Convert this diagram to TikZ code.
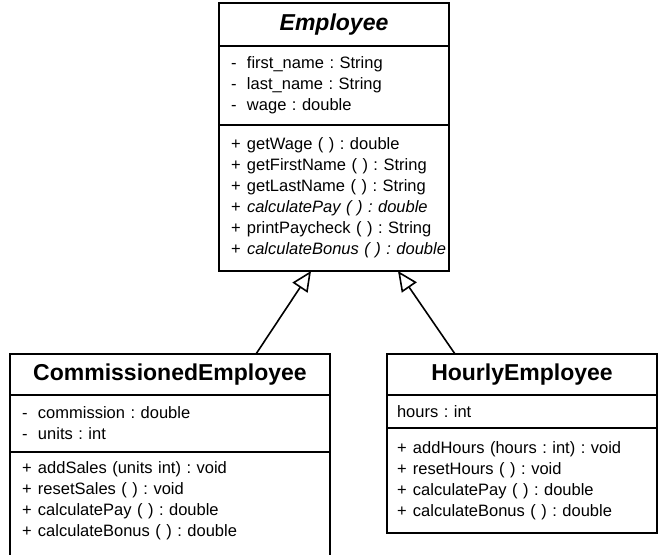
\documentclass[tikz,border=0pt]{standalone}
\usepackage{fontspec}
\setmainfont{Liberation Sans}
\usepackage{tikz}
\usetikzlibrary{arrows.meta,positioning}
\frenchspacing
\newcommand{\vis}[2]{\mbox{\makebox[16pt][l]{#1}{#2}}}
\tikzset{
  chead/.style={outer sep=0pt,inner sep=0pt,font=\fontsize{23}{26}\selectfont\bfseries},
  cpart/.style={outer sep=0pt,inner xsep=12pt,inner ysep=0pt,align=left,font=\fontsize{16.5}{21}\selectfont},
  cframe/.style={line width=2.4pt},
  csep/.style={line width=1.2pt},
  gen/.style={-{Triangle[open,length=20pt,width=18pt]},line width=1.6pt}
}

\begin{document}
\begin{tikzpicture}[x=1pt,y=1pt]
\useasboundingbox (0,0) rectangle (660,-554);
% Employee
\node[chead, anchor=north west, minimum width=230pt, minimum height=43pt] (emph) at (219,-3) {\itshape Employee};
\node[cpart, text width=206pt, minimum height=79pt, below=0pt of emph] (empa)
  {\vis{-}{first\_name : String}\\ \vis{-}{last\_name : String}\\ \vis{-}{wage : double}};
\node[cpart, text width=206pt, minimum height=146pt, below=0pt of empa] (empm)
  {\vis{+}{getWage ( ) : double}\\ \vis{+}{getFirstName ( ) : String}\\
   \vis{+}{getLastName ( ) : String}\\ \vis{+}{\itshape calculatePay ( ) : double}\\
   \vis{+}{printPaycheck ( ) : String}\\ \vis{+}{\itshape calculateBonus ( ) : double}};
\draw[cframe] (emph.north west) rectangle (empm.south east);
\draw[csep] (emph.south west) -- (emph.south east);
\draw[csep] (empa.south west) -- (empa.south east);

% CommissionedEmployee
\node[chead, anchor=north west, minimum width=320pt, minimum height=41pt] (comh) at (10,-354) {CommissionedEmployee};
\node[cpart, text width=296pt, minimum height=57pt, below=0pt of comh] (coma)
  {\vis{-}{commission : double}\\ \vis{-}{units : int}};
\node[cpart, text width=296pt, minimum height=97pt, below=0pt of coma] (comm)
  {\vis{+}{addSales (units int) : void}\\ \vis{+}{resetSales ( ) : void}\\
   \vis{+}{calculatePay ( ) : double}\\ \vis{+}{calculateBonus ( ) : double}};
\draw[cframe] (comh.north west) rectangle ([yshift=-20pt]comm.south east);
\draw[csep] (comh.south west) -- (comh.south east);
\draw[csep] (coma.south west) -- (coma.south east);

% HourlyEmployee
\node[chead, anchor=north west, minimum width=270pt, minimum height=41pt] (hrh) at (387,-354) {HourlyEmployee};
\node[cpart, inner xsep=10pt, text width=250pt, minimum height=33pt, below=0pt of hrh] (hra)
  {hours : int};
\node[cpart, inner xsep=10pt, text width=250pt, minimum height=105pt, below=0pt of hra] (hrm)
  {\vis{+}{addHours (hours : int) : void}\\ \vis{+}{resetHours ( ) : void}\\
   \vis{+}{calculatePay ( ) : double}\\ \vis{+}{calculateBonus ( ) : double}};
\draw[cframe] (hrh.north west) rectangle (hrm.south east);
\draw[csep] (hrh.south west) -- (hrh.south east);
\draw[csep] (hra.south west) -- (hra.south east);

\draw[gen] ([xshift=246pt]comh.north west) -- ([xshift=92pt]empm.south west);
\draw[gen] ([xshift=68pt]hrh.north west) -- ([xshift=179pt]empm.south west);
\end{tikzpicture}
\end{document}
